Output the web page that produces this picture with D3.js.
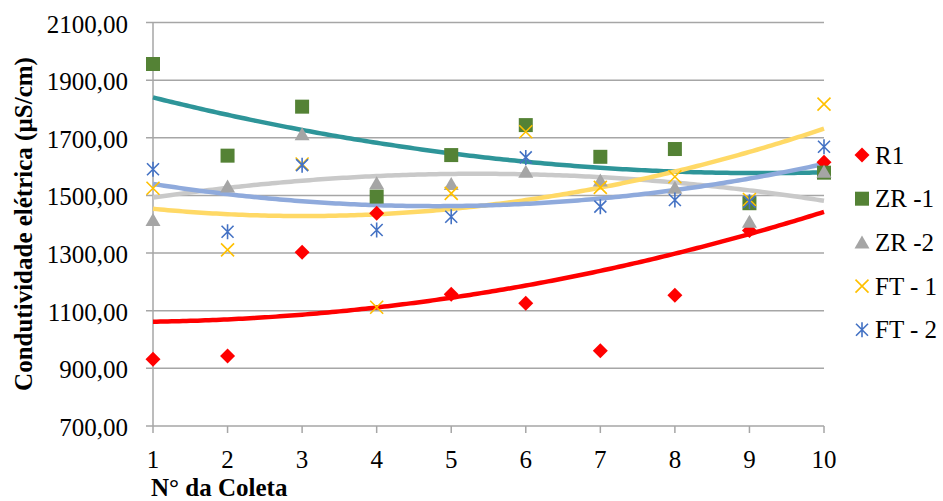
<!DOCTYPE html>
<html><head><meta charset="utf-8">
<script src="https://cdn.jsdelivr.net/npm/d3@7"></script>
<style>body{margin:0;background:#fff}svg{display:block}
svg text{font-family:"Liberation Serif","Times New Roman",Times,serif;}</style>
</head><body>
<svg id="c" width="943" height="501"></svg>
<script>
const coletas = [1,2,3,4,5,6,7,8,9,10];
const yTicks = [700,900,1100,1300,1500,1700,1900,2100];
const seriesNames = ["R1","ZR -1","ZR -2","FT - 1","FT - 2"];
const r1  = [932, 943, 1303, 1438, 1157, 1126, 961, 1154, 1378, 1615];
const zr1 = [1956, 1638, 1808, 1496, 1640, 1744, 1634, 1661, 1473, 1579];
const zr2 = [1415, 1531, 1712, 1542, 1540, 1582, 1552, 1527, 1409, 1582];
const ft1 = [1525, 1311, 1609, 1112, 1507, 1721, 1528, 1565, 1486, 1817];
const ft2 = [1591, 1374, 1605, 1380, 1426, 1632, 1461, 1484, 1478, 1669];
const allValues = [r1, zr1, zr2, ft1, ft2];
const markerColors = ["#FF0000","#548235","#A5A5A5","#FFC000","#4472C4"];
const trendColors  = ["#FF0000","#2E9599","#C9C9C9","#FFD966","#8FAADC"];
const shapes = ["diamond","square","triangle","x","asterisk"];

const svg = d3.select("#c");
const x = d3.scaleLinear().domain([1,10]).range([153,824]);
const y = d3.scaleLinear().domain([700,2100]).range([426,22.5]);

// gridlines
svg.append("g").selectAll("line").data(yTicks).join("line")
  .attr("x1",146).attr("x2",824).attr("y1",d=>y(d)).attr("y2",d=>y(d))
  .attr("stroke","#A6A6A6").attr("stroke-width",1.5);
// y axis line
svg.append("line").attr("x1",x(1)).attr("x2",x(1)).attr("y1",y(2100)).attr("y2",y(700))
  .attr("stroke","#A6A6A6").attr("stroke-width",1.5);
// x axis ticks
svg.append("g").selectAll("line").data(coletas).join("line")
  .attr("x1",d=>x(d)).attr("x2",d=>x(d)).attr("y1",y(700)).attr("y2",y(700)+7)
  .attr("stroke","#A6A6A6").attr("stroke-width",1.5);

// tick labels
const fmt = d => d3.format(".2f")(d).replace(".",",");
svg.append("g").selectAll("text").data(yTicks).join("text")
  .attr("x",128).attr("y",d=>y(d)+10).attr("text-anchor","end")
  .attr("font-size",25).attr("fill","#000").text(fmt);
svg.append("g").selectAll("text").data(coletas).join("text")
  .attr("x",d=>x(d)).attr("y",468).attr("text-anchor","middle")
  .attr("font-size",25).attr("fill","#000").text(d=>d);

// axis titles
svg.append("text").attr("x",151).attr("y",496)
  .attr("font-size",25).attr("font-weight","bold").text("N° da Coleta");
svg.append("text").attr("transform","translate(32,224) rotate(-90)")
  .attr("text-anchor","middle")
  .attr("font-size",25).attr("font-weight","bold").text("Condutividade elétrica (µS/cm)");

// quadratic least squares fit
function quadFit(xs, ys){
  let n=xs.length, sx=0,sx2=0,sx3=0,sx4=0,sy=0,sxy=0,sx2y=0;
  for(let i=0;i<n;i++){const a=xs[i],b=ys[i];sx+=a;sx2+=a*a;sx3+=a*a*a;sx4+=a*a*a*a;sy+=b;sxy+=a*b;sx2y+=a*a*b;}
  const M=[[n,sx,sx2,sy],[sx,sx2,sx3,sxy],[sx2,sx3,sx4,sx2y]];
  for(let i=0;i<3;i++){for(let k=i+1;k<3;k++){const f=M[k][i]/M[i][i];for(let j=i;j<4;j++)M[k][j]-=f*M[i][j];}}
  const c=[0,0,0];
  for(let i=2;i>=0;i--){let s=M[i][3];for(let j=i+1;j<3;j++)s-=M[i][j]*c[j];c[i]=s/M[i][i];}
  return t=>c[0]+c[1]*t+c[2]*t*t;
}

const line = d3.line().x(d=>x(d[0])).y(d=>y(d[1]));
const samples = d3.range(1,10.001,0.05);
const trendG = svg.append("g");
const markG = svg.append("g");

function marker(g, shape, color, cx, cy){
  if(shape==="diamond"){
    g.append("path").attr("d",`M${cx},${cy-7.5}L${cx+7.5},${cy}L${cx},${cy+7.5}L${cx-7.5},${cy}Z`).attr("fill",color);
  } else if(shape==="square"){
    g.append("rect").attr("x",cx-7).attr("y",cy-7).attr("width",14).attr("height",14).attr("fill",color);
  } else if(shape==="triangle"){
    g.append("path").attr("d",`M${cx},${cy-7}L${cx+7.5},${cy+6}L${cx-7.5},${cy+6}Z`).attr("fill",color);
  } else if(shape==="x"){
    g.append("path").attr("d",`M${cx-6.5},${cy-6.5}L${cx+6.5},${cy+6.5}M${cx+6.5},${cy-6.5}L${cx-6.5},${cy+6.5}`)
      .attr("stroke",color).attr("stroke-width",1.6).attr("fill","none");
  } else {
    g.append("path").attr("d",`M${cx-6},${cy-6}L${cx+6},${cy+6}M${cx+6},${cy-6}L${cx-6},${cy+6}M${cx},${cy-7.5}L${cx},${cy+7.5}`)
      .attr("stroke",color).attr("stroke-width",1.6).attr("fill","none");
  }
}

allValues.forEach((vals,i)=>{
  const f = quadFit(coletas, vals);
  trendG.append("path").datum(samples.map(t=>[t,f(t)])).attr("d",line)
    .attr("fill","none").attr("stroke",trendColors[i]).attr("stroke-width",4.5);
});
allValues.forEach((vals,i)=>{
  vals.forEach((v,j)=>marker(markG, shapes[i], markerColors[i], x(coletas[j]), y(v)));
});

// legend
const legG = svg.append("g");
seriesNames.forEach((name,i)=>{
  const ly = 155 + i*43.7;
  marker(legG, shapes[i], markerColors[i], 862, ly);
  legG.append("text").attr("x",875).attr("y",ly+8.5)
    .attr("font-size",25).attr("fill","#000").text(name);
});
</script>
</body></html>
